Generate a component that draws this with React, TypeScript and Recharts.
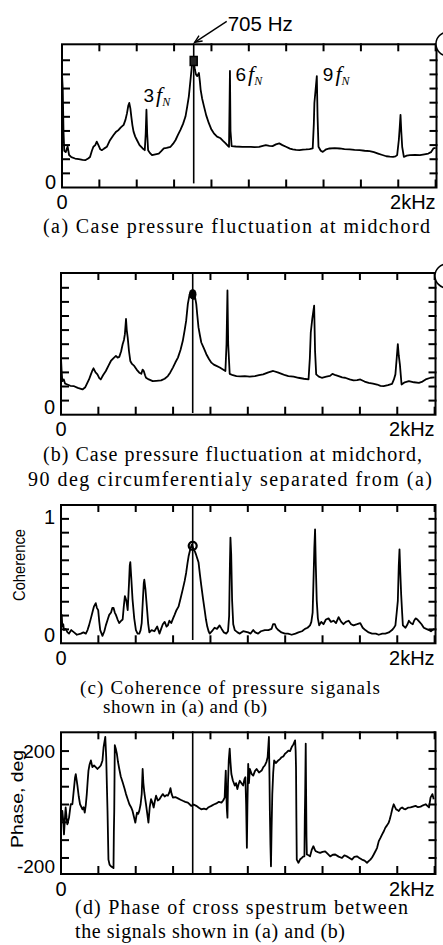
import React from 'react';
import { LineChart, Line, XAxis, YAxis, ReferenceLine, ReferenceDot } from 'recharts';

const SANS = "'Liberation Sans', Arial, Helvetica, sans-serif";
const SERIF = "'Liberation Serif', 'Times New Roman', Times, serif";
const INK = '#000';

/* ------------------------------ data ------------------------------ */
const freqTicks = [0, 200, 400, 600, 800, 1000, 1200, 1400, 1600, 1800, 2000];
const freqTickLabels: Record<string, string> = { '0': '0', '2000': '2kHz' };
const freqDomain: [number, number] = [0, 2010];
const peakHz = 705;
const peakLabel = '705 Hz';

const harmonicNames = ['3', '6', '9'];
const harmonicHz = [452, 899, 1364];
const harmonicLevel = [4.5, 7.24, 6.88];

// (a) case pressure spectrum at midchord
const aFreq = [
  0, 4, 8, 12, 20, 30, 38, 50, 70, 90,
  110, 124, 140, 150, 160, 168, 178, 186, 195, 205,
  213, 225, 240, 255, 265, 276, 290, 303, 315, 330,
  340, 348, 355, 360, 366, 371, 377, 383, 392, 401,
  415, 432, 443, 448, 452, 456, 461, 470, 482, 500,
  518, 530, 545, 560, 581, 595, 608, 620, 634, 648,
  661, 670, 679, 688, 697, 705, 711, 717, 724, 733,
  738, 742, 750, 760, 772, 786, 800, 813, 830, 849,
  862, 876, 888, 894, 897, 899, 902, 908, 930, 966,
  984, 1011, 1030, 1055, 1075, 1091, 1110, 1127, 1145, 1163,
  1180, 1199, 1220, 1235, 1253, 1271, 1290, 1306, 1325, 1342,
  1348, 1351, 1358, 1364, 1368, 1373, 1385, 1396, 1414, 1432,
  1460, 1486, 1512, 1540, 1566, 1593, 1620, 1647, 1670, 1692,
  1715, 1736, 1755, 1772, 1785, 1794, 1803, 1808, 1812, 1816,
  1821, 1830, 1845, 1862, 1890, 1916, 1940, 1961, 1975, 1988,
  2000,
];
const aLevel = [
  7.0, 6.0, 3.0, 1.6, 1.5, 1.9, 1.3, 1.15, 1.05, 1.0,
  0.95, 0.93, 1.05, 1.16, 1.6, 1.88, 2.0, 2.24, 2.0, 1.7,
  1.64, 1.75, 1.88, 2.3, 2.5, 2.71, 2.95, 3.07, 3.25, 3.43,
  3.8, 4.26, 4.8, 4.98, 4.6, 4.02, 3.4, 2.95, 2.6, 2.36,
  2.0, 1.76, 1.64, 2.8, 4.5, 2.8, 1.64, 1.45, 1.29, 1.35,
  1.4, 1.55, 1.76, 1.8, 1.88, 2.1, 2.36, 2.7, 3.07, 3.5,
  4.02, 4.7, 5.45, 6.64, 7.83, 7.95, 7.36, 7.0, 6.88, 7.1,
  6.5, 5.93, 5.3, 4.74, 4.1, 3.55, 3.1, 2.83, 2.6, 2.48,
  2.3, 2.12, 1.95, 1.88, 5.0, 7.24, 3.0, 1.93, 1.9, 1.88,
  1.88, 1.88, 1.85, 1.88, 1.95, 2.0, 1.95, 1.93, 2.05, 2.12,
  2.0, 1.88, 1.75, 1.69, 1.66, 1.64, 1.68, 1.69, 1.72, 1.76,
  3.5, 4.98, 6.0, 6.88, 4.0, 1.88, 1.6, 1.52, 1.7, 1.76,
  1.78, 1.76, 1.72, 1.69, 1.66, 1.64, 1.6, 1.57, 1.5, 1.4,
  1.3, 1.21, 1.18, 1.16, 1.2, 1.29, 2.36, 3.3, 4.14, 3.0,
  1.88, 1.16, 1.25, 1.29, 1.3, 1.29, 1.35, 1.4, 1.5, 1.76,
  1.8,
];

// (b) case pressure spectrum, 90 deg apart
const bFreq = [
  0, 3, 7, 15, 22, 34, 50, 70, 90, 115,
  130, 141, 150, 160, 167, 174, 185, 195, 205, 213,
  225, 240, 255, 267, 280, 294, 303, 312, 322, 330,
  337, 342, 348, 352, 357, 364, 371, 380, 392, 405,
  419, 430, 437, 443, 450, 455, 470, 491, 510, 536,
  555, 572, 585, 599, 612, 626, 640, 652, 662, 670,
  679, 688, 697, 705, 711, 718, 724, 730, 736, 744,
  751, 765, 778, 792, 805, 818, 832, 850, 867, 880,
  886, 891, 895, 903, 920, 939, 960, 984, 1010, 1038,
  1060, 1082, 1110, 1136, 1160, 1181, 1200, 1217, 1245, 1271,
  1300, 1325, 1332, 1337, 1345, 1355, 1360, 1366, 1380, 1396,
  1420, 1440, 1453, 1470, 1486, 1505, 1521, 1545, 1566, 1585,
  1602, 1625, 1647, 1670, 1692, 1710, 1727, 1750, 1772, 1782,
  1790, 1797, 1803, 1808, 1814, 1823, 1840, 1862, 1890, 1916,
  1935, 1952, 1978, 2000,
];
const bLevel = [
  3.0, 2.2, 1.38, 1.5, 1.2, 1.14, 1.05, 1.02, 0.9, 0.79,
  0.95, 1.26, 1.5, 1.86, 2.1, 2.29, 2.0, 1.86, 1.6, 1.5,
  1.8, 2.1, 2.5, 2.81, 3.0, 3.17, 3.05, 3.1, 3.5, 4.0,
  4.3, 4.71, 5.79, 5.0, 4.48, 3.5, 2.81, 2.6, 2.46, 2.2,
  1.98, 1.9, 2.2, 2.1, 1.8, 1.62, 1.5, 1.38, 1.4, 1.43,
  1.55, 1.74, 2.0, 2.34, 2.7, 3.05, 3.6, 4.24, 5.0, 5.67,
  6.86, 7.5, 7.69, 7.55, 7.21, 7.3, 6.86, 6.0, 5.19, 4.6,
  4.12, 3.7, 3.29, 2.95, 2.69, 2.55, 2.46, 2.35, 2.21, 2.1,
  4.0, 7.81, 4.0, 1.9, 1.8, 1.74, 1.72, 1.74, 1.7, 1.74,
  1.8, 1.86, 2.0, 2.1, 2.0, 1.9, 1.8, 1.74, 1.7, 1.62,
  1.55, 1.5, 3.0, 4.83, 5.8, 6.74, 3.5, 1.86, 1.7, 1.62,
  1.7, 1.75, 1.9, 1.8, 1.74, 1.65, 1.62, 1.5, 1.43, 1.45,
  1.5, 1.35, 1.26, 1.2, 1.14, 1.05, 1.02, 1.1, 1.19, 1.5,
  1.86, 3.0, 4.0, 3.2, 2.57, 1.14, 1.3, 1.38, 1.3, 1.26,
  1.35, 1.5, 1.62, 1.65,
];

// (c) coherence
const cFreq = [
  0, 4, 7, 12, 16, 25, 35, 43, 55, 70,
  85, 106, 120, 133, 142, 150, 160, 168, 176, 186,
  192, 199, 205, 210, 222, 232, 240, 250, 258, 268,
  275, 281, 288, 294, 303, 312, 322, 330, 336, 342,
  350, 357, 364, 368, 371, 376, 383, 392, 401, 410,
  419, 426, 432, 438, 443, 446, 452, 457, 461, 467,
  473, 485, 500, 515, 527, 536, 545, 555, 565, 572,
  580, 590, 600, 608, 618, 629, 640, 652, 662, 670,
  677, 683, 692, 700, 710, 717, 724, 730, 736, 744,
  751, 760, 769, 776, 783, 790, 796, 808, 822, 835,
  849, 860, 872, 885, 894, 900, 904, 907, 911, 916,
  922, 930, 945, 957, 975, 1002, 1015, 1029, 1040, 1055,
  1070, 1091, 1110, 1127, 1135, 1145, 1152, 1163, 1180, 1199,
  1215, 1235, 1255, 1271, 1290, 1306, 1320, 1333, 1340, 1347,
  1352, 1356, 1360, 1364, 1369, 1375, 1382, 1393, 1405, 1418,
  1432, 1445, 1459, 1472, 1486, 1500, 1512, 1525, 1540, 1553,
  1566, 1585, 1602, 1615, 1629, 1647, 1665, 1685, 1701, 1720,
  1736, 1755, 1772, 1782, 1790, 1797, 1803, 1808, 1812, 1816,
  1821, 1826, 1830, 1844, 1855, 1862, 1872, 1883, 1890, 1898,
  1908, 1919, 1930, 1942, 1955, 1970, 1980, 1988, 2000,
];
const cCoherence = [
  0.15, 0.18, 0.08, 0.1, 0.05, 0.06, 0.03, 0.02, 0.05, 0.03,
  0.01, 0.02, 0.03, 0.02, 0.05, 0.09, 0.15, 0.2, 0.25, 0.28,
  0.24, 0.22, 0.12, 0.05, 0.0, 0.04, 0.09, 0.14, 0.18, 0.2,
  0.24, 0.24, 0.2, 0.18, 0.14, 0.11, 0.13, 0.14, 0.25, 0.34,
  0.3, 0.22, 0.45, 0.6, 0.63, 0.5, 0.31, 0.15, 0.05, 0.02,
  0.02, 0.05, 0.11, 0.3, 0.45, 0.48, 0.4, 0.3, 0.22, 0.1,
  0.03, 0.05, 0.04, 0.08, 0.02, 0.06, 0.1, 0.12, 0.08, 0.09,
  0.13, 0.11, 0.15, 0.18, 0.22, 0.25, 0.32, 0.4, 0.47, 0.54,
  0.62, 0.68, 0.74, 0.78, 0.74, 0.72, 0.69, 0.66, 0.63, 0.52,
  0.43, 0.32, 0.22, 0.14, 0.08, 0.04, 0.02, 0.04, 0.07, 0.06,
  0.09, 0.06, 0.03, 0.02, 0.04, 0.17, 0.6, 0.84, 0.7, 0.3,
  0.1, 0.05, 0.03, 0.02, 0.04, 0.03, 0.02, 0.05, 0.03, 0.02,
  0.04, 0.05, 0.05, 0.06, 0.1, 0.1, 0.07, 0.05, 0.03, 0.02,
  0.02, 0.01, 0.02, 0.03, 0.04, 0.06, 0.07, 0.09, 0.12, 0.2,
  0.5, 0.75, 0.91, 0.6, 0.3, 0.15, 0.09, 0.12, 0.1, 0.14,
  0.15, 0.12, 0.13, 0.11, 0.16, 0.12, 0.1, 0.12, 0.13, 0.1,
  0.09, 0.1, 0.11, 0.07, 0.05, 0.03, 0.02, 0.02, 0.01, 0.02,
  0.02, 0.03, 0.05, 0.07, 0.09, 0.2, 0.3, 0.6, 0.74, 0.55,
  0.35, 0.2, 0.09, 0.07, 0.1, 0.13, 0.11, 0.1, 0.13, 0.15,
  0.14, 0.12, 0.1, 0.07, 0.06, 0.05, 0.04, 0.05, 0.06,
];

// (d) phase of cross spectrum (deg)
const dFreq = [
  0, 7, 12, 16, 22, 25, 30, 34, 43, 52,
  61, 70, 75, 79, 84, 88, 95, 102, 115, 121,
  127, 133, 138, 143, 147, 153, 160, 168, 177, 186,
  195, 205, 213, 222, 228, 231, 237, 242, 246, 249,
  254, 260, 267, 281, 283, 285, 288, 293, 299, 305,
  312, 320, 330, 340, 348, 357, 366, 375, 383, 390,
  398, 403, 407, 413, 419, 426, 432, 437, 441, 446,
  451, 455, 461, 468, 475, 482, 490, 496, 503, 509,
  518, 527, 536, 545, 555, 564, 572, 580, 586, 592,
  599, 612, 626, 640, 652, 665, 679, 690, 697, 710,
  724, 738, 751, 765, 778, 790, 805, 818, 832, 845,
  859, 868, 876, 879, 882, 885, 888, 891, 894, 898,
  903, 907, 912, 920, 930, 937, 944, 950, 957, 966,
  975, 982, 987, 991, 995, 998, 1002, 1006, 1011, 1020,
  1029, 1038, 1047, 1060, 1074, 1083, 1091, 1100, 1106, 1110,
  1113, 1116, 1118, 1121, 1124, 1127, 1131, 1136, 1141, 1150,
  1163, 1172, 1181, 1190, 1199, 1208, 1217, 1226, 1235, 1244,
  1253, 1256, 1258, 1260, 1262, 1271, 1280, 1289, 1296, 1303,
  1305, 1307, 1310, 1312, 1314, 1316, 1325, 1333, 1342, 1351,
  1358, 1364, 1375, 1387, 1400, 1414, 1428, 1441, 1455, 1468,
  1486, 1504, 1517, 1530, 1544, 1557, 1570, 1584, 1597, 1611,
  1625, 1638, 1647, 1656, 1665, 1674, 1683, 1692, 1701, 1710,
  1719, 1728, 1736, 1745, 1754, 1760, 1767, 1774, 1781, 1788,
  1794, 1800, 1808, 1817, 1826, 1835, 1844, 1857, 1871, 1885,
  1898, 1911, 1925, 1938, 1952, 1961, 1970, 1978, 1988, 1995,
];
const dPhase = [
  -74, -24, -60, -112, -40, -11, -50, -74, -49, 1,
  1, 64, 100, 114, 90, 71, 30, 1, -18, -10,
  -30, 0, 39, 90, 127, 150, 165, 140, 146, 140,
  133, 140, 146, 165, 215, 228, 253, 177, 60, -24,
  -206, -225, -231, -238, -100, -24, 222, 210, 190, 160,
  133, 105, 83, 60, 39, 20, 1, -10, -24, -45,
  -68, -45, -30, -35, -24, 0, 39, 133, 80, 45,
  20, 1, -30, -68, -10, 20, 5, -11, 15, 33,
  15, 20, 30, 39, 30, 35, 33, 45, 61, 40,
  26, 28, 23, 18, 14, 10, 7, 0, -5, 0,
  -5, -12, -18, -15, -18, -10, -5, 0, 4, 10,
  7, 15, 26, 80, 127, 40, -20, -49, 80, 165,
  209, 160, 114, 90, 71, 80, 58, 75, 89, 80,
  71, 95, 102, 0, -162, 0, 152, 80, 133, 115,
  108, 125, 133, 120, 127, 140, 146, 160, 177, 220,
  253, 100, -24, -150, -231, -100, 39, 120, 165, 155,
  165, 170, 177, 180, 190, 195, 202, 200, 215, 225,
  240, 200, 140, -50, -206, -218, -205, -200, -195, -194,
  -50, 39, 228, 50, -120, -187, -190, -194, -170, -156,
  -168, -175, -178, -181, -177, -175, -185, -194, -188, -187,
  -195, -200, -190, -194, -200, -206, -196, -194, -200, -206,
  -210, -218, -212, -206, -198, -187, -175, -162, -137, -125,
  -112, -100, -87, -78, -68, -55, -36, -15, 1, -10,
  -18, -20, -24, -15, -11, -16, -18, -12, -11, -8,
  -5, -10, -8, -3, 1, -5, -11, 26, 39, 20,
];

const levelTicks = [0, 1, 2, 3, 4, 5, 6, 7, 8];
const coherenceTicks = [0, 0.056, 0.174, 0.292, 0.41, 0.528, 0.646, 0.764, 0.882, 1];
const phaseTicks = [-200, -400 / 3, -200 / 3, 0, 200 / 3, 400 / 3, 200];

const captions = [
  { text: '(a) Case pressure fluctuation at midchord', x: 43, y: 233, len: 387, size: 20 },
  { text: '(b) Case pressure fluctuation at midchord,', x: 43, y: 461, len: 379, size: 20 },
  { text: '90 deg circumferentialy separated from (a)', x: 28, y: 486, len: 404, size: 20 },
  { text: '(c) Coherence of pressure siganals', x: 80, y: 694, len: 300, size: 19 },
  { text: 'shown in (a) and (b)', x: 103, y: 713, len: 164, size: 19 },
  { text: '(d) Phase of cross spestrum between', x: 75, y: 914, len: 333, size: 20 },
  { text: 'the signals shown in (a) and (b)', x: 75, y: 938, len: 270, size: 20 },
];

/* ------------------------------ helpers ------------------------------ */
const TL = 8;      // tick length, px
const AXW = 2;     // frame / tick stroke width
const AX = 1;      // axis thickness reserved in the layout

const toRows = (xs: number[], ys: number[]) =>
  xs.slice(0, Math.min(xs.length, ys.length)).map((f, i) => ({ f, v: ys[i] }));

const rowsA = toRows(aFreq, aLevel);
const rowsB = toRows(bFreq, bLevel);
const rowsC = toRows(cFreq, cCoherence);
const rowsD = toRows(dFreq, dPhase);

const BottomLabel = (props: any) => {
  const { x, y, payload } = props;
  const lbl = freqTickLabels[String(payload.value)];
  return (
    <text x={x} y={y + 21.5} textAnchor={payload.value === 0 ? 'middle' : 'end'}
      fontFamily={SANS} fontSize={20} fill={INK}>{lbl || ''}</text>
  );
};

const makeLeftLabel = (labels: Record<string, string>, dys: Record<string, number>, size: number) =>
  (props: any) => {
    const { x, y, payload } = props;
    const key = String(payload.value);
    return (
      <text x={x - 6} y={y + (dys[key] || 0)} dy="0.36em" textAnchor="end"
        fontFamily={SANS} fontSize={size} fill={INK}>{labels[key] || ''}</text>
    );
  };
const leftLabelA = makeLeftLabel({ '0': '0' }, { '0': 8.5 }, 20);
const leftLabelB = makeLeftLabel({ '0': '0' }, { '0': 6 }, 20);
const leftLabelC = makeLeftLabel({ '0': '0', '1': '1' }, { '0': -1, '1': -2 }, 20);
const leftLabelD = makeLeftLabel({ '200': '200', '-200': '-200' }, { '-200': 8.5 }, 19);

type Geo = { chartTop: number; slot: number; chartHeight: number; plotTop: number; plotBottom: number; plotLeft: number; plotRight: number };

// inward tick marks & frame, anchored at data positions through the chart's scales
const tickUp = (pp: any) => <line x1={pp.cx} y1={pp.cy} x2={pp.cx} y2={pp.cy - TL} stroke={INK} strokeWidth={AXW} />;
const tickDown = (pp: any) => <line x1={pp.cx} y1={pp.cy} x2={pp.cx} y2={pp.cy + TL} stroke={INK} strokeWidth={AXW} />;
const tickRight = (pp: any) => <line x1={pp.cx} y1={pp.cy} x2={pp.cx + TL} y2={pp.cy} stroke={INK} strokeWidth={AXW} />;
const tickLeft = (pp: any) => <line x1={pp.cx} y1={pp.cy} x2={pp.cx - TL} y2={pp.cy} stroke={INK} strokeWidth={AXW} />;

function frameDots(tag: string, g: Geo, yDomain: [number, number], yLineTicks: number[]) {
  const [y0, y1] = yDomain;
  const [x0, x1] = freqDomain;
  const pw = g.plotRight - g.plotLeft;
  const ph = g.plotBottom - g.plotTop;
  const dot = (k: string, x: number, y: number, shape: any) => (
    <ReferenceDot key={tag + k} xAxisId="b" yAxisId="l" x={x} y={y} r={1} ifOverflow="visible" shape={shape} />
  );
  const boxShape = (pp: any) => (
    <rect x={pp.cx} y={pp.cy - ph} width={pw} height={ph} fill="none" stroke={INK} strokeWidth={AXW} />
  );
  const out: React.ReactElement[] = [dot('box', x0, y0, boxShape)];
  freqTicks.forEach((t) => {
    if (t <= x0 || t >= x1) return;
    out.push(dot('xb' + t, t, y0, tickUp));
    out.push(dot('xt' + t, t, y1, tickDown));
  });
  yLineTicks.forEach((t, i) => {
    out.push(dot('yl' + i, x0, t, tickRight));
    out.push(dot('yr' + i, x1, t, tickLeft));
  });
  return out;
}

function Panel(p: {
  geo: Geo; rows: { f: number; v: number }[]; yDomain: [number, number]; yTicks: number[];
  leftLabel: (props: any) => React.ReactElement; extras: React.ReactElement[];
}) {
  const g = p.geo;
  const margin = {
    top: g.plotTop - g.chartTop - AX,
    bottom: g.chartTop + g.chartHeight - g.plotBottom - AX,
    left: g.plotLeft - AX,
    right: 443 - g.plotRight - AX,
  };
  return (
    <div style={{ position: 'relative', width: 443, height: g.slot }}>
      <div style={{ position: 'absolute', left: 0, top: 0 }}>
        <LineChart width={443} height={g.chartHeight} data={p.rows} margin={margin}>
          <XAxis xAxisId="b" type="number" dataKey="f" domain={freqDomain} allowDataOverflow ticks={freqTicks}
            interval={0} height={AX} tickSize={0} tickMargin={0} tickLine={false} axisLine={false} tick={BottomLabel} />
          <YAxis yAxisId="l" type="number" domain={p.yDomain} allowDataOverflow ticks={p.yTicks} interval={0}
            width={AX} tickSize={0} tickMargin={0} tickLine={false} axisLine={false} tick={p.leftLabel} />
          {p.extras}
          <Line xAxisId="b" yAxisId="l" type="linear" dataKey="v" dot={false} stroke={INK} strokeWidth={1.8}
            strokeLinejoin="round" isAnimationActive={false} />
        </LineChart>
      </div>
    </div>
  );
}

const cursor = (key: string, top: number, bottom: number) => (
  <ReferenceLine key={key} xAxisId="b" yAxisId="l" segment={[{ x: peakHz, y: top }, { x: peakHz, y: bottom }]}
    stroke={INK} strokeWidth={1.6} ifOverflow="visible" />
);

const ArrowNote = (props: any) => {
  const { cx, cy } = props;
  const tipX = cx + 1, tipY = cy - 1;
  const tailX = cx + 33, tailY = cy - 22;
  const ang = Math.atan2(tailY - tipY, tailX - tipX);
  const L = 8, s = 0.42;
  const a1x = tipX + L * Math.cos(ang + s), a1y = tipY + L * Math.sin(ang + s);
  const a2x = tipX + L * Math.cos(ang - s), a2y = tipY + L * Math.sin(ang - s);
  return (
    <g>
      <line x1={tipX} y1={tipY} x2={tailX} y2={tailY} stroke={INK} strokeWidth={1.4} />
      <polyline points={`${a1x},${a1y} ${tipX},${tipY} ${a2x},${a2y}`} fill="none" stroke={INK} strokeWidth={1.4} />
      <text x={cx + 34} y={cy - 12.8} fontFamily={SANS} fontSize={20} fill={INK} textLength={65} lengthAdjust="spacingAndGlyphs">{peakLabel}</text>
    </g>
  );
};

const harmonicOffsets = [[-3, -7.3], [5.5, 10], [6, 5]];
const HarmonicLabel = (i: number) => (props: any) => (
  <text x={props.cx + harmonicOffsets[i][0]} y={props.cy + harmonicOffsets[i][1]} fill={INK}>
    <tspan fontFamily={SANS} fontSize={19}>{harmonicNames[i]}</tspan>
    <tspan fontFamily={SERIF} fontStyle="italic" fontSize={22} dx={2}>f</tspan>
    <tspan fontFamily={SERIF} fontStyle="italic" fontSize={12} dy={4}>N</tspan>
  </text>
);
const harmonicShapes = harmonicNames.map((_, i) => HarmonicLabel(i));

const edgeRing = (key: string, y: number) => (
  <ReferenceDot key={key} xAxisId="b" yAxisId="l" x={2066} y={y} r={12} fill="#fff" stroke={INK}
    strokeWidth={1.6} ifOverflow="visible" />
);

const SquareMark = (pp: any) => <rect x={pp.cx - 3.5} y={pp.cy - 4.5} width={7} height={9} fill="#222" stroke={INK} strokeWidth={1.5} />;
const BlobMark = (pp: any) => <ellipse cx={pp.cx} cy={pp.cy} rx={3.8} ry={5.2} fill={INK} />;

/* ------------------------------ geometry ------------------------------ */
const geoA: Geo = { chartTop: 0, slot: 240, chartHeight: 215, plotTop: 44.3, plotBottom: 187.5, plotLeft: 62, plotRight: 436.5 };
const geoB: Geo = { chartTop: 240, slot: 255, chartHeight: 205, plotTop: 273, plotBottom: 414.7, plotLeft: 61, plotRight: 435.5 };
const geoC: Geo = { chartTop: 495, slot: 225, chartHeight: 180, plotTop: 505, plotBottom: 643.3, plotLeft: 61, plotRight: 435.5 };
const geoD: Geo = { chartTop: 720, slot: 225, chartHeight: 180, plotTop: 732.3, plotBottom: 874, plotLeft: 61, plotRight: 435.5 };

const levelDomainA: [number, number] = [-1, 9.2];
const levelDomainB: [number, number] = [-1, 9.12];
const coherenceDomain: [number, number] = [-0.063, 1.127];
const phaseDomain: [number, number] = [-260, 274];

const extrasA = [
  ...frameDots('A', geoA, levelDomainA, levelTicks),
  edgeRing('ringA', 9.15),
  cursor('curA', levelDomainA[1], -0.71),
  <ReferenceDot key="sqA" xAxisId="b" yAxisId="l" x={peakHz} y={7.95} r={4} ifOverflow="visible" shape={SquareMark} />,
  <ReferenceDot key="arrow" xAxisId="b" yAxisId="l" x={peakHz} y={levelDomainA[1]} r={1} ifOverflow="visible" shape={ArrowNote} />,
  ...harmonicHz.map((hz, i) => (
    <ReferenceDot key={'h' + i} xAxisId="b" yAxisId="l" x={hz} y={harmonicLevel[i]} r={1} ifOverflow="visible" shape={harmonicShapes[i]} />
  )),
];
const extrasB = [
  ...frameDots('B', geoB, levelDomainB, levelTicks),
  edgeRing('ringB', 8.84),
  cursor('curB', levelDomainB[1], -0.88),
  <ReferenceDot key="dotB" xAxisId="b" yAxisId="l" x={peakHz} y={7.55} r={4} ifOverflow="visible" shape={BlobMark} />,
];
const extrasC = [
  ...frameDots('C', geoC, coherenceDomain, coherenceTicks.filter((t) => t !== 0)),
  cursor('curC', coherenceDomain[1], -0.035),
  <ReferenceDot key="dotC" xAxisId="b" yAxisId="l" x={peakHz} y={0.77} r={4} fill="none" stroke={INK} strokeWidth={2.2} ifOverflow="visible" />,
];
const extrasD = [
  ...frameDots('D', geoD, phaseDomain, phaseTicks),
  cursor('curD', phaseDomain[1], phaseDomain[0]),
];

export default function App() {
  return (
    <div style={{ position: 'absolute', left: 0, top: 0, width: 443 }}>
      <Panel geo={geoA} rows={rowsA} yDomain={levelDomainA} yTicks={levelTicks} leftLabel={leftLabelA} extras={extrasA} />
      <Panel geo={geoB} rows={rowsB} yDomain={levelDomainB} yTicks={levelTicks} leftLabel={leftLabelB} extras={extrasB} />
      <Panel geo={geoC} rows={rowsC} yDomain={coherenceDomain} yTicks={coherenceTicks} leftLabel={leftLabelC} extras={extrasC} />
      <Panel geo={geoD} rows={rowsD} yDomain={phaseDomain} yTicks={phaseTicks} leftLabel={leftLabelD} extras={extrasD} />
      {captions.map((c, i) => (
        <svg key={i} width={443} height={28} style={{ position: 'absolute', left: 0, top: c.y - 21, pointerEvents: 'none' }}>
          <text x={c.x} y={21} fontFamily={SERIF} fontSize={c.size} fill={INK}
            textLength={c.len} lengthAdjust="spacing">{c.text}</text>
        </svg>
      ))}
      <svg width={32} height={90} style={{ position: 'absolute', left: 0, top: 520, pointerEvents: 'none' }}>
        <text transform="translate(19,45) rotate(-90)" textAnchor="middle" dy="0.36em" fontFamily={SANS}
          fontSize={16} fill={INK} textLength={72} lengthAdjust="spacingAndGlyphs">Coherence</text>
      </svg>
      <svg width={32} height={110} style={{ position: 'absolute', left: 0, top: 745, pointerEvents: 'none' }}>
        <text transform="translate(17,54) rotate(-90)" textAnchor="middle" dy="0.36em" fontFamily={SANS}
          fontSize={17} fill={INK} textLength={98} lengthAdjust="spacingAndGlyphs">Phase, deg</text>
      </svg>
    </div>
  );
}
